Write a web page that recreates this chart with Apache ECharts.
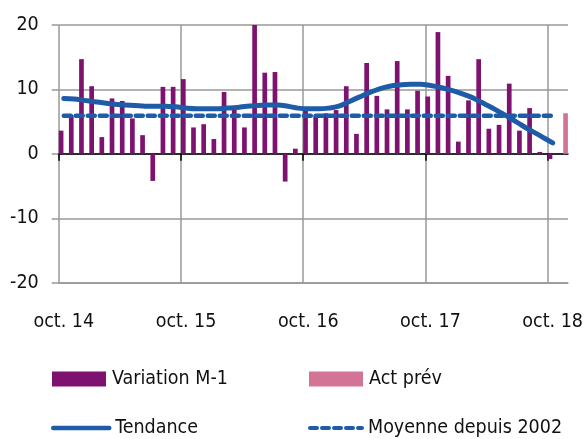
<!DOCTYPE html>
<html>
<head>
<meta charset="utf-8">
<script src="https://cdn.jsdelivr.net/npm/echarts@6/dist/echarts.min.js"></script>
<style>
  html, body { margin: 0; padding: 0; background: #fff; }
  #chart { width: 586px; height: 439px; }
</style>
</head>
<body>
<div id="chart"></div>
<script>
// months oct. 14 -> nov. 18
var months = ['janv.', 'févr.', 'mars', 'avr.', 'mai', 'juin', 'juil.', 'août', 'sept.', 'oct.', 'nov.', 'déc.'];
var categories = [];
for (var i = 0; i < 50; i++) {
  var m = (9 + i) % 12;
  var y = 14 + Math.floor((9 + i) / 12);
  categories.push(months[m] + ' ' + y);
}
// boundaries between months, used for the ticks on the zero line
var boundaries = [];
for (var b = 0; b <= 50; b++) boundaries.push(b);

var variation = [3.6, 6.0, 14.7, 10.5, 2.6, 8.6, 8.2, 5.5, 2.9, -4.2, 10.4, 10.4,
  11.6, 4.1, 4.6, 2.3, 9.6, 6.9, 4.1, 20.0, 12.6, 12.7, -4.3, 0.8,
  6.8, 6.0, 6.3, 6.8, 10.5, 3.1, 14.1, 9.0, 6.9, 14.4, 6.9, 9.8,
  8.9, 18.9, 12.1, 1.9, 8.3, 14.7, 3.9, 4.5, 10.9, 3.6, 7.1, 0.3,
  -0.8, '-'];
var actPrev = ['-', '-', '-', '-', '-', '-', '-', '-', '-', '-', '-', '-',
  '-', '-', '-', '-', '-', '-', '-', '-', '-', '-', '-', '-',
  '-', '-', '-', '-', '-', '-', '-', '-', '-', '-', '-', '-',
  '-', '-', '-', '-', '-', '-', '-', '-', '-', '-', '-', '-',
  '-', 6.3];
var tendance = [8.6, 8.5, 8.3, 8.1, 7.9, 7.7, 7.6, 7.5, 7.4, 7.4, 7.4, 7.3,
  7.1, 7.0, 7.0, 7.0, 7.1, 7.2, 7.4, 7.5, 7.6, 7.6, 7.4, 7.1,
  7.0, 7.0, 7.1, 7.4, 8.1, 8.8, 9.5, 10.1, 10.5, 10.7, 10.8, 10.8,
  10.6, 10.3, 9.9, 9.4, 8.8, 8.0, 7.2, 6.3, 5.4, 4.4, 3.5, 2.6,
  1.7, '-'];
var moyenne = [5.9, 5.9, 5.9, 5.9, 5.9, 5.9, 5.9, 5.9, 5.9, 5.9, 5.9, 5.9,
  5.9, 5.9, 5.9, 5.9, 5.9, 5.9, 5.9, 5.9, 5.9, 5.9, 5.9, 5.9,
  5.9, 5.9, 5.9, 5.9, 5.9, 5.9, 5.9, 5.9, 5.9, 5.9, 5.9, 5.9,
  5.9, 5.9, 5.9, 5.9, 5.9, 5.9, 5.9, 5.9, 5.9, 5.9, 5.9, 5.9,
  5.9, '-'];

var font = "'DejaVu Sans Condensed', 'DejaVu Sans', sans-serif";
var grid = '#989898';
var purple = '#7e1270';
var pink = '#d37396';
var blue = '#1f5ca8';

var chart = echarts.init(document.getElementById('chart'), null, { renderer: 'canvas' });
var legendText = { fontFamily: font, fontSize: 19.5, color: '#111', lineHeight: 24, padding: [0, 0, 0, 1] };
chart.setOption({
  animation: false,
  grid: { left: 58.7, right: 15, top: 25, bottom: 156.3, containLabel: false },
  legend: [
    { left: 47, top: 362, data: [{ name: 'Variation M-1', icon: 'rect' }], itemWidth: 54, itemHeight: 15, textStyle: legendText },
    { left: 304, top: 362, data: [{ name: 'Act prév', icon: 'rect' }], itemWidth: 54, itemHeight: 15, textStyle: legendText },
    { left: 46, top: 411, data: [{ name: 'Tendance', itemStyle: { opacity: 0 } }], itemWidth: 56, itemHeight: 14,
      lineStyle: { width: 4.5, cap: 'round' }, textStyle: legendText },
    { left: 303, top: 411, data: [{ name: 'Moyenne depuis 2002', itemStyle: { opacity: 0 } }], itemWidth: 52, itemHeight: 14,
      lineStyle: { width: 4, type: [7, 5], cap: 'round' }, textStyle: legendText }
  ],
  xAxis: [{
    type: 'category',
    data: categories,
    boundaryGap: true,
    axisLine: { onZero: false, lineStyle: { color: grid, width: 1.5 } },
    axisTick: { show: false },
    axisLabel: {
      interval: 11, margin: 29,
      fontFamily: font, fontSize: 19.5, color: '#111',
      formatter: function (v) { return v.replace(/^[^ ]+/, 'oct.'); }
    },
    splitLine: { show: true, interval: 11, showMaxLine: false, lineStyle: { color: grid, width: 1.5 } }
  }, {
    type: 'category',
    data: boundaries,
    position: 'bottom',
    boundaryGap: false,
    axisLine: { onZero: true, lineStyle: { color: '#000', width: 1.5 } },
    axisTick: { show: true, interval: 11, length: 7, lineStyle: { color: '#000', width: 1.5 } },
    axisLabel: { show: false },
    splitLine: { show: false }
  }],
  yAxis: {
    type: 'value',
    min: -20, max: 20, interval: 10,
    axisLine: { show: false },
    axisTick: { show: true, length: 7, lineStyle: { color: grid, width: 1.5 } },
    axisLabel: { margin: 20, fontFamily: font, fontSize: 19.5, color: '#111' },
    splitLine: { show: true, lineStyle: { color: grid, width: 1.5 } }
  },
  series: [{
    name: 'Variation M-1',
    type: 'bar',
    data: variation,
    barWidth: 4.7,
    barGap: '15%',
    itemStyle: { color: purple }
  }, {
    name: 'Act prév',
    type: 'bar',
    data: actPrev,
    barWidth: 4.7,
    barGap: '15%',
    itemStyle: { color: pink }
  }, {
    name: 'Moyenne depuis 2002',
    type: 'line',
    data: moyenne,
    symbol: 'none',
    lineStyle: { color: blue, width: 4.5, type: [7, 5], cap: 'round' },
    itemStyle: { color: blue }
  }, {
    name: 'Tendance',
    type: 'line',
    data: tendance,
    symbol: 'none',
    smooth: 0.4,
    lineStyle: { color: blue, width: 5, cap: 'round' },
    itemStyle: { color: blue }
  }]
});
</script>
</body>
</html>
